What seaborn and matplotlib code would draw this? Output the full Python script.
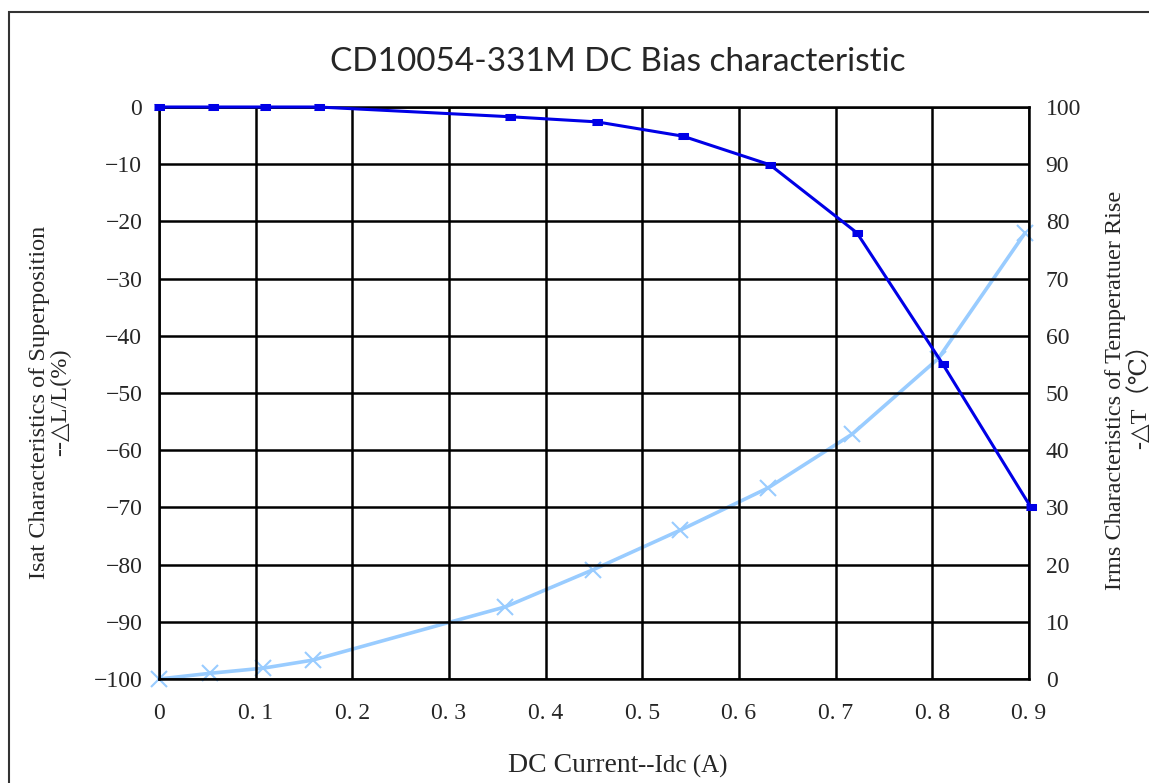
import matplotlib
matplotlib.use("Agg")
import matplotlib.pyplot as plt
import matplotlib.patches as mpatches
import pandas as pd
import seaborn as sns

# Inductance drop (left axis)
idc_l = [0.0, 0.056, 0.11, 0.165, 0.363, 0.453, 0.542, 0.632, 0.722, 0.811, 0.902]
dl_l = [0.0, 0.0, 0.0, 0.0, -1.7, -2.6, -5.1, -10.1, -22.0, -45.0, -70.0]

# Temperature rise (right axis)
idc_t = [0.0, 0.053, 0.108, 0.159, 0.358, 0.449, 0.539, 0.630, 0.717, 0.806, 0.896]
dt = [0.0, 1.0, 1.9, 3.3, 12.6, 19.1, 26.0, 33.4, 42.8, 56.0, 78.0]

x_ticks = [0.0, 0.1, 0.2, 0.3, 0.4, 0.5, 0.6, 0.7, 0.8, 0.9]
x_ticklabels = ["0", "0. 1", "0. 2", "0. 3", "0. 4", "0. 5", "0. 6", "0. 7", "0. 8", "0. 9"]
left_ticks = list(range(-100, 1, 10))
right_ticks = list(range(0, 101, 10))

title = "CD10054-331M DC Bias characteristic"
xlabel_main = "DC Current"
xlabel_unit = "--Idc (A)"
ylabel_left = "Isat Characteristics of Superposition\n--△L/L(%)"
ylabel_right = "Irms Characteristics of Temperatuer Rise\n-△T（℃）"

dark_blue = "#0000E6"
light_blue = "#99CCFF"

sns.set_style("white")
serif = ["Liberation Serif", "DejaVu Serif", "Noto Sans CJK SC"]
plt.rcParams["font.family"] = serif
plt.rcParams["axes.unicode_minus"] = True

df_l = pd.DataFrame({"idc": idc_l, "dl": dl_l})
df_t = pd.DataFrame({"idc": idc_t, "dt": dt})

fig = plt.figure(figsize=(11.49, 7.83), dpi=100)
ax = fig.add_axes([159 / 1149, 1 - 679 / 783, 870 / 1149, 572 / 783])
ax2 = ax.twinx()

# grid on the left axis
ax.set_xlim(0, 0.9)
ax.set_ylim(-100, 0)
ax.set_xticks(x_ticks)
ax.set_xticklabels(x_ticklabels)
ax.set_yticks(left_ticks)
ax.set_yticklabels([str(v).replace("-", "\u2212") for v in left_ticks])
ax.grid(True, color="black", linewidth=1.8)
ax.tick_params(length=0, labelsize=17, pad=12)
ax.tick_params(axis="x", pad=17)
for s in ax.spines.values():
    s.set_color("black")
    s.set_linewidth(1.8)
for s in ax2.spines.values():
    s.set_visible(False)

ax2.set_ylim(0, 100)
ax2.set_yticks(right_ticks)
ax2.tick_params(length=0, labelsize=17, pad=12)
ax2.grid(False)

rect = [(-1.0, -0.55), (1.0, -0.55), (1.0, 0.55), (-1.0, 0.55)]
sns.lineplot(data=df_t, x="idc", y="dt", ax=ax2, color=light_blue, linewidth=2.6,
             marker="x", markersize=12, markeredgewidth=1.5, markeredgecolor=light_blue,
             sort=False, clip_on=False, zorder=3)
sns.lineplot(data=df_l, x="idc", y="dl", ax=ax, color=dark_blue, linewidth=2.2,
             marker=rect, markersize=7.5, markeredgecolor=dark_blue, sort=False,
             clip_on=False, zorder=4)
ax.set_zorder(ax2.get_zorder() + 1)
ax.patch.set_visible(False)
ax.set_xlabel("")
ax.set_ylabel("")
ax2.set_ylabel("")

fig.text(618 / 1149, 1 - 62 / 783, title, ha="center", va="center",
         fontsize=24, family=["Lato", "DejaVu Sans"])
fig.text(638 / 1149, 1 - 766 / 783, xlabel_main, ha="right", va="center", fontsize=20)
fig.text(638 / 1149, 1 - 766 / 783, xlabel_unit, ha="left", va="center", fontsize=18)
fig.text(50 / 1149, 1 - 402 / 783, ylabel_left, ha="center", va="center",
         rotation=90, fontsize=17.5, multialignment="center", linespacing=1.05)
fig.text(1128 / 1149, 1 - 390 / 783, ylabel_right, ha="center", va="center",
         rotation=90, fontsize=17.5, multialignment="center", linespacing=1.05)

# chart area border
fig.patches.append(mpatches.Rectangle((9 / 1149, -0.5), 2, 0.5 + 1 - 12 / 783,
                                      transform=fig.transFigure, fill=False,
                                      edgecolor="#333333", linewidth=1.5))

fig.savefig("out.png", dpi=100, facecolor="white")
